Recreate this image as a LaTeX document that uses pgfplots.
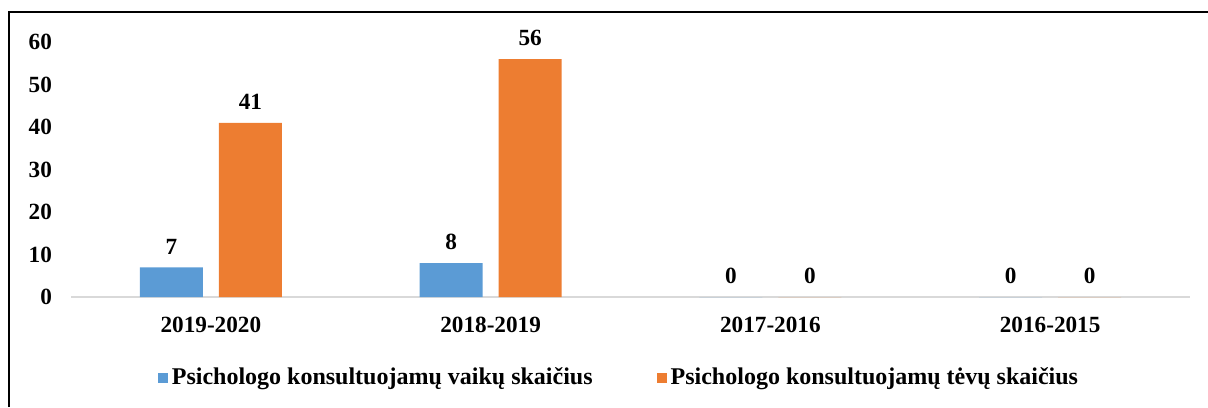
\documentclass[border=0pt]{standalone}
\usepackage{fontspec}
\setmainfont{Liberation Serif}
\usepackage{pgfplots}
\pgfplotsset{compat=1.18}
\definecolor{cblue}{HTML}{5B9BD5}
\definecolor{corange}{HTML}{ED7D31}
\definecolor{axgray}{HTML}{D9D9D9}
\begin{document}
\begin{tikzpicture}
\path[use as bounding box] (0,0) rectangle (604pt,203.5pt);
\draw[line width=1.1pt,black] (4.5pt,0) -- (4.5pt,197.5pt) -- (604pt,197.5pt);
\begin{axis}[
  at={(35.5pt,55pt)}, anchor=south west,
  scale only axis, width=559.5pt, height=127.5pt,
  xmin=-0.5, xmax=3.5, ymin=0, ymax=60,
  ytick={0,10,20,30,40,50,60},
  xtick={0,1,2,3},
  xticklabels={2019-2020,2018-2019,2017-2016,2016-2015},
  axis x line*=bottom, axis y line*=left,
  y axis line style={draw=none},
  x axis line style={draw=axgray,line width=1pt},
  major tick length=0pt,
  /pgf/number format/assume math mode=true,
  tick label style={font=\fontsize{11.6}{13}\selectfont\bfseries},
  yticklabel style={xshift=-6pt},
  xticklabel style={yshift=-6.5pt},
  ybar=8pt, bar width=31.5pt,
  nodes near coords,
  every node near coord/.append style={font=\fontsize{11.6}{13}\selectfont\bfseries, yshift=3pt},
  clip=false,
  legend columns=2,
  legend style={draw=none, at={(0.4906,-0.3176)}, anchor=center,
    font=\fontsize{12}{14}\selectfont\bfseries,
    /tikz/every even column/.append style={column sep=30pt}},
  legend image code/.code={\fill[#1] (0pt,-2.5pt) rectangle (5pt,2.5pt);},
]
\addplot[fill=cblue, draw=none] coordinates {(0,7) (1,8) (2,0) (3,0)};
\addplot[fill=corange, draw=none] coordinates {(0,41) (1,56) (2,0) (3,0)};
\legend{Psichologo konsultuojamų vaikų skaičius, Psichologo konsultuojamų tėvų skaičius}
\end{axis}
\end{tikzpicture}
\end{document}
